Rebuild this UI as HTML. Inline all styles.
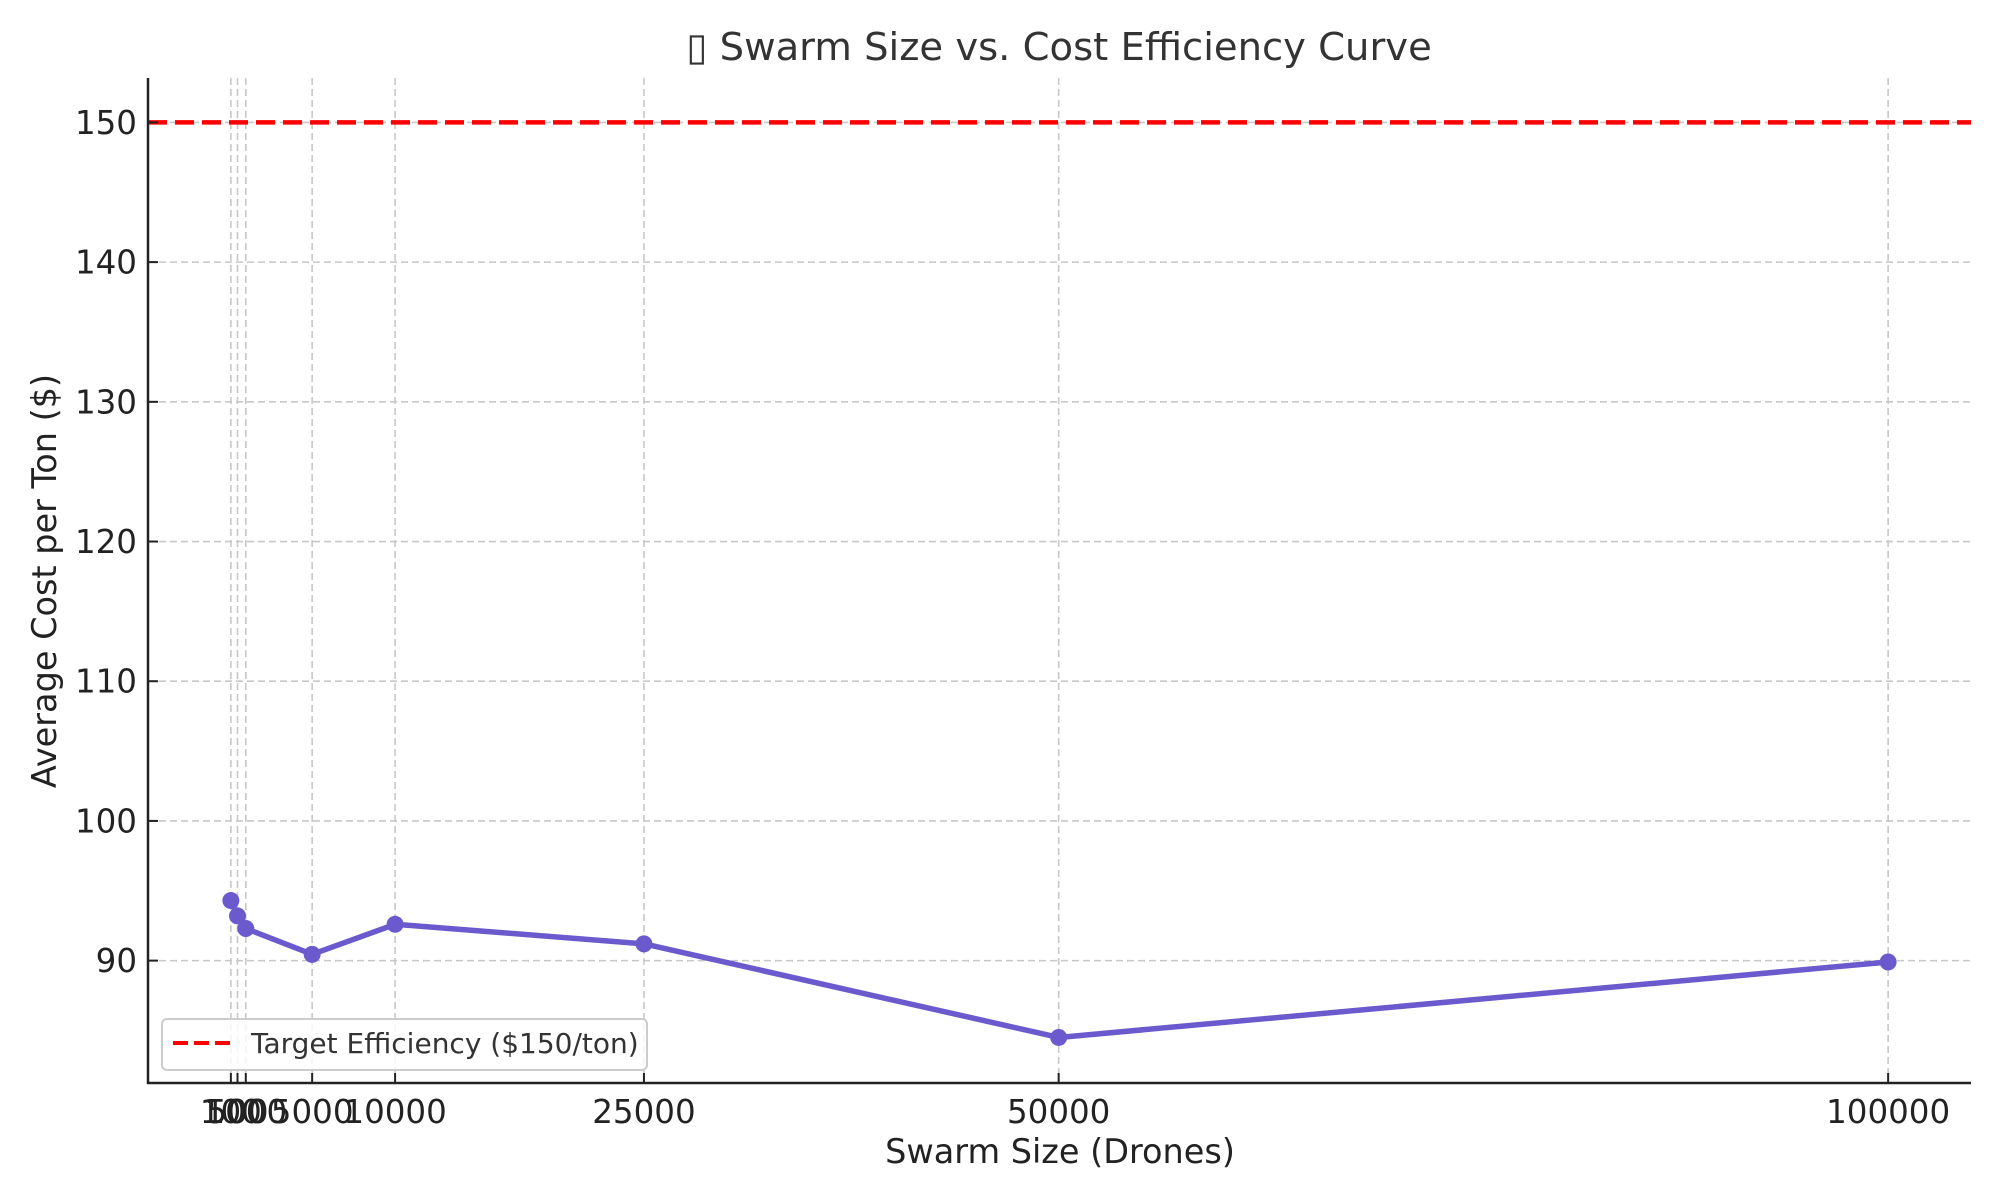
<!DOCTYPE html>
<html><head><meta charset="utf-8"><style>
html,body{margin:0;padding:0;background:#fff;}
svg{display:block;font-family:"DejaVu Sans","Liberation Sans",sans-serif;}
</style></head><body>
<svg id="chart" width="2000" height="1200" viewBox="0 0 2000 1200" xmlns="http://www.w3.org/2000/svg">
<rect width="2000" height="1200" fill="#fff"/>
<text x="1059" y="60" text-anchor="middle" font-size="38.5" fill="#333">▯ Swarm Size vs. Cost Efficiency Curve</text>
<g id="grid"></g>
<g id="series"></g>
<g id="axes"></g>
<text x="1060" y="1163" text-anchor="middle" font-size="33.5" fill="#222">Swarm Size (Drones)</text>
<text transform="translate(56,581) rotate(-90)" text-anchor="middle" font-size="33.5" fill="#222">Average Cost per Ton ($)</text>
<g>
<rect x="162" y="1019" width="485" height="51" rx="5" fill="#fff" fill-opacity="0.8" stroke="#ccc" stroke-width="2"/>
<line x1="173" y1="1043" x2="230" y2="1043" stroke="#ff0000" stroke-width="4" stroke-dasharray="15,6"/>
<text x="251" y="1053" font-size="28" fill="#333">Target Efficiency ($150/ton)</text>
</g>
</svg>
<script>
const swarmSizes = [100, 500, 1000, 5000, 10000, 25000, 50000, 100000];
const costPerTon = [94.3, 93.2, 92.3, 90.45, 92.6, 91.2, 84.5, 89.9];
const xTickLabels = ["100", "500", "1000", "5000", "10000", "25000", "50000", "100000"];
const yTicks = [90, 100, 110, 120, 130, 140, 150];
const targetCost = [150];

const L = 148, R = 1971, T = 78, B = 1083;
const xMin = -4895, xMax = 104995, yMin = 81.24, yMax = 153.18;
const sx = v => L + (v - xMin) / (xMax - xMin) * (R - L);
const sy = v => B - (v - yMin) / (yMax - yMin) * (B - T);
const NS = "http://www.w3.org/2000/svg";
function mk(tag, attrs, parent) {
  const e = document.createElementNS(NS, tag);
  for (const k in attrs) e.setAttribute(k, attrs[k]);
  parent.appendChild(e);
  return e;
}
const grid = document.getElementById('grid');
const series = document.getElementById('series');
const axes = document.getElementById('axes');

swarmSizes.forEach((v, i) => {
  const g = mk('line', {x1: sx(v), x2: sx(v), y1: T, y2: B, stroke: '#c8c8c8', 'stroke-width': 1.6, 'stroke-dasharray': '7,4'}, grid);
  
  
  const t = mk('line', {x1: sx(v), x2: sx(v), y1: B, y2: B - 10, stroke: '#222', 'stroke-width': 2}, axes);
  
  
  const lb = mk('text', {x: sx(v), y: B + 40, 'text-anchor': 'middle', 'font-size': 32.5, fill: '#222'}, axes);
  lb.textContent = xTickLabels[i];
  
  
});
yTicks.forEach(v => {
  const g = mk('line', {x1: L, x2: R, y1: sy(v), y2: sy(v), stroke: '#c8c8c8', 'stroke-width': 1.6, 'stroke-dasharray': '7,4'}, grid);
  
  
  const t = mk('line', {x1: L, x2: L + 10, y1: sy(v), y2: sy(v), stroke: '#222', 'stroke-width': 2}, axes);
  
  
  const lb = mk('text', {x: 137, y: sy(v) + 11.5, 'text-anchor': 'end', 'font-size': 32.5, fill: '#222'}, axes);
  lb.textContent = String(v);
  
  
});

const tl = mk('line', {x1: L, x2: R, y1: sy(targetCost[0]), y2: sy(targetCost[0]), stroke: '#ff0000', 'stroke-width': 4.5, 'stroke-dasharray': '19,8'}, series);



const pts = swarmSizes.map((v, i) => sx(v) + ',' + sy(costPerTon[i])).join(' ');
const pl = mk('polyline', {points: pts, fill: 'none', stroke: '#6a5acd', 'stroke-width': 5.5, 'stroke-linejoin': 'round'}, series);


swarmSizes.forEach((v, i) => {
  const c = mk('circle', {cx: sx(v), cy: sy(costPerTon[i]), r: 8.5, fill: '#6a5acd'}, series);
  
  
});

const ya = mk('line', {x1: L, x2: L, y1: T, y2: B + 1, stroke: '#222', 'stroke-width': 2.5}, axes);


const xa = mk('line', {x1: L - 1, x2: R, y1: B, y2: B, stroke: '#222', 'stroke-width': 2.5}, axes);


</script>
</body></html>
